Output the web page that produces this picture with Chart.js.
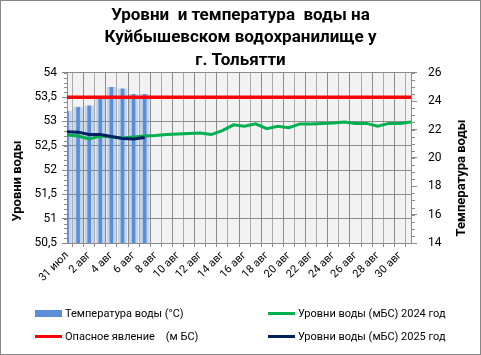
<!DOCTYPE html>
<html lang="ru">
<head>
<meta charset="utf-8">
<title>Уровни и температура воды</title>
<script src="https://cdn.jsdelivr.net/npm/chart.js@4.4.1/dist/chart.umd.min.js"></script>
<style>
  body { margin: 0; background: #fff; }
  #wrap { position: relative; width: 481px; height: 355px; font-family: Roboto, "Noto Sans", sans-serif; }
  #legend { position: absolute; left: 0; top: 0; width: 481px; height: 355px; pointer-events: none; }
  .item { position: absolute; display: flex; align-items: center; font-size: 11px; color: #000; white-space: pre; }
  .sw { display: inline-block; width: 27px; margin-right: 3px; }
</style>
</head>
<body>
<div id="wrap">
  <canvas id="chart"></canvas>
  <div id="legend"></div>
</div>
<script>
// категории (дни)
const days = ['31 июл', '1 авг', '2 авг', '3 авг', '4 авг', '5 авг', '6 авг', '7 авг', '8 авг', '9 авг',
  '10 авг', '11 авг', '12 авг', '13 авг', '14 авг', '15 авг', '16 авг', '17 авг', '18 авг', '19 авг',
  '20 авг', '21 авг', '22 авг', '23 авг', '24 авг', '25 авг', '26 авг', '27 авг', '28 авг', '29 авг',
  '30 авг', '31 авг'];

// температура воды, °C (правая ось)
const waterTemp = [23.3, 23.6, 23.7, 24.2, 25.0, 24.9, 24.5, 24.5];

// уровни воды, м БС
const level2024 = [52.72, 52.70, 52.64, 52.70, 52.68, 52.66, 52.68, 52.70, 52.71, 52.73,
  52.74, 52.75, 52.76, 52.73, 52.81, 52.93, 52.90, 52.95, 52.85, 52.90,
  52.87, 52.95, 52.95, 52.96, 52.97, 52.99, 52.96, 52.96, 52.90, 52.96,
  52.96, 52.99];
const level2025 = [52.79, 52.78, 52.73, 52.73, 52.69, 52.65, 52.64, 52.67];
const dangerLevel = [53.5, 53.5, 53.5, 53.5, 53.5, 53.5, 53.5, 53.5, 53.5, 53.5,
  53.5, 53.5, 53.5, 53.5, 53.5, 53.5, 53.5, 53.5, 53.5, 53.5,
  53.5, 53.5, 53.5, 53.5, 53.5, 53.5, 53.5, 53.5, 53.5, 53.5,
  53.5, 53.5];

const titleLines = ['Уровни  и температура  воды на', 'Куйбышевском водохранилище у', 'г. Тольятти'];
const leftTitle = 'Уровни воды';
const rightTitle = 'Температура воды';

const FONT = 'Roboto, "Noto Sans", sans-serif';

// фон, рамка, мелкие засечки и подписи осей
const decor = {
  id: 'decor',
  beforeDraw(chart) {
    const { ctx, chartArea: a } = chart;
    ctx.save();
    ctx.fillStyle = '#fff';
    ctx.fillRect(0, 0, chart.width, chart.height);
    ctx.fillStyle = '#f2f2f2';
    ctx.fillRect(a.left, a.top, a.right - a.left, a.bottom - a.top);
    ctx.restore();
  },
  afterDraw(chart) {
    const { ctx, chartArea: a } = chart;
    ctx.save();
    ctx.strokeStyle = '#868686';
    ctx.lineWidth = 1;
    ctx.strokeRect(0.5, 0.5, chart.width - 1, chart.height - 1);

    // мелкие засечки
    ctx.strokeStyle = '#8c8c8c';
    ctx.beginPath();
    const y = chart.scales.y, y1 = chart.scales.y1;
    for (let v = y.min; v <= y.max + 1e-6; v += 0.1) {
      const p = Math.round(y.getPixelForValue(v)) + 0.5;
      ctx.moveTo(a.left - 3, p); ctx.lineTo(a.left, p);
    }
    for (let v = y1.min; v <= y1.max + 1e-6; v += 0.5) {
      const p = Math.round(y1.getPixelForValue(v)) + 0.5;
      ctx.moveTo(a.right, p); ctx.lineTo(a.right + 4, p);
    }
    ctx.stroke();

    ctx.fillStyle = '#000';
    ctx.font = 'bold 13px ' + FONT;
    ctx.textAlign = 'center';
    ctx.textBaseline = 'middle';
    ctx.translate(18, 181);
    ctx.rotate(-Math.PI / 2);
    ctx.fillText(leftTitle, 0, 0);
    ctx.restore();

    ctx.save();
    ctx.fillStyle = '#000';
    ctx.font = 'bold 13px ' + FONT;
    ctx.textAlign = 'center';
    ctx.textBaseline = 'middle';
    ctx.translate(462, 178);
    ctx.rotate(-Math.PI / 2);
    ctx.fillText(rightTitle, 0, 0);
    ctx.restore();
  }
};

const chart = new Chart(document.getElementById('chart'), {
  data: {
    labels: days,
    datasets: [
      {
        type: 'bar',
        label: 'Температура воды (°C)',
        data: waterTemp,
        yAxisID: 'y1',
        backgroundColor: '#5b8ed8',
        borderColor: 'rgba(91,142,216,0.3)',
        borderWidth: { left: 3, right: 3, top: 0, bottom: 0 },
        barThickness: 9,
        order: 4
      },
      {
        type: 'line',
        label: 'Уровни воды (мБС) 2024 год',
        data: level2024,
        yAxisID: 'y',
        borderColor: '#00b050',
        borderWidth: 3,
        pointRadius: 0,
        tension: 0,
        order: 3
      },
      {
        type: 'line',
        label: 'Опасное явление    (м БС)',
        data: dangerLevel,
        yAxisID: 'y',
        borderColor: '#ff0000',
        borderWidth: 3.5,
        pointRadius: 0,
        order: 2
      },
      {
        type: 'line',
        label: 'Уровни воды (мБС) 2025 год',
        data: level2025,
        yAxisID: 'y',
        borderColor: '#002060',
        borderWidth: 3,
        pointRadius: 0,
        tension: 0,
        order: 1
      }
    ]
  },
  options: {
    responsive: true,
    maintainAspectRatio: false,
    animation: false,
    layout: { padding: { left: 0, right: 0, top: 4, bottom: 60 } },
    plugins: {
      legend: { display: false },
      tooltip: { enabled: false },
      title: {
        display: true,
        text: titleLines,
        color: '#000',
        font: { family: FONT, size: 17, weight: 'bold', lineHeight: 1.33 },
        padding: { top: 0, bottom: 1 }
      }
    },
    scales: {
      x: {
        offset: false,
        afterFit: s => { s.height = 52; },
        grid: {
          color: c => (c.index % 2 === 0 ? '#8c8c8c' : '#ababab'),
          tickLength: 4,
          tickColor: '#8c8c8c'
        },
        border: { display: true, color: '#8c8c8c' },
        ticks: {
          autoSkip: false,
          minRotation: 45,
          maxRotation: 45,
          padding: 2,
          color: '#000',
          font: { family: FONT, size: 11 },
          callback: function (v, i) { return i % 2 === 0 ? this.getLabelForValue(v) : ''; }
        }
      },
      y: {
        position: 'left',
        min: 50.5,
        max: 54,
        afterFit: s => { s.width = 67; },
        grid: { color: '#8c8c8c', tickLength: 5, tickColor: '#8c8c8c' },
        border: { display: true, color: '#8c8c8c' },
        ticks: {
          stepSize: 0.5,
          padding: 5,
          color: '#000',
          font: { family: FONT, size: 12 },
          callback: v => String(v).replace('.', ',')
        }
      },
      y1: {
        position: 'right',
        min: 14,
        max: 26,
        afterFit: s => { s.width = 70; },
        grid: { drawOnChartArea: false, tickLength: 6, tickColor: '#8c8c8c' },
        border: { display: true, color: '#8c8c8c' },
        ticks: {
          stepSize: 2,
          padding: 11,
          color: '#000',
          font: { family: FONT, size: 12 }
        }
      }
    }
  },
  plugins: [decor]
});

// легенда в две колонки, как в исходнике
const legendPos = [
  { ds: 0, x: 35, y: 313 },
  { ds: 1, x: 268, y: 313 },
  { ds: 2, x: 35, y: 336 },
  { ds: 3, x: 268, y: 336 }
];
const legendEl = document.getElementById('legend');
legendPos.forEach(p => {
  const ds = chart.data.datasets[p.ds];
  const item = document.createElement('div');
  item.className = 'item';
  item.style.left = p.x + 'px';
  item.style.top = (p.y - 8) + 'px';
  item.style.height = '16px';
  const sw = document.createElement('span');
  sw.className = 'sw';
  if (ds.type === 'bar') {
    sw.style.height = '7px';
    sw.style.background = ds.backgroundColor;
  } else {
    sw.style.height = '3px';
    sw.style.background = ds.borderColor;
  }
  item.appendChild(sw);
  item.appendChild(document.createTextNode(ds.label));
  legendEl.appendChild(item);
});
</script>
</body>
</html>
